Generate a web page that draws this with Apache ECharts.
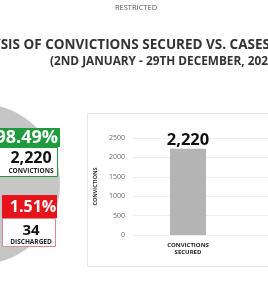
<!DOCTYPE html>
<html>
<head>
<meta charset="utf-8">
<script src="https://cdn.jsdelivr.net/npm/echarts@6/dist/echarts.min.js"></script>
<style>
  html, body { margin: 0; padding: 0; background: #fff; }
  #main { width: 268px; height: 300px; }
</style>
</head>
<body>
<div id="main"></div>
<script>
// categories + values
const categories = ['CONVICTIONS\nSECURED', 'CASES\nDISCHARGED']
const caseValues = [2220, 34]
const pieNames = ['CONVICTIONS', 'DISCHARGED']
const piePercents = ['98.49%', '1.51%']
const yTicks = [0, 500, 1000, 1500, 2000, 2500]

const FONT = '"Open Sans", "DejaVu Sans", sans-serif'

const fmt = (v) => v.toLocaleString('en-US')

var myChart = echarts.init(document.getElementById('main'))

// the bar panel is cut off on the right; the second bar sits outside the view
var option = {
  animation: false,
  backgroundColor: '#fff',
  grid: {
    left: 133,
    top: 138,
    right: 0,
    bottom: 65
  },
  xAxis: {
    type: 'value',
    min: -0.5,
    max: 0.727,
    axisLine: { show: false },
    axisTick: { show: false },
    splitLine: { show: false },
    axisLabel: {
      customValues: [0],
      formatter: (v) => categories[Math.round(v)] || '',
      margin: 7,
      fontSize: 6,
      fontWeight: 'bold',
      lineHeight: 7,
      color: '#222',
      fontFamily: FONT
    }
  },
  yAxis: {
    type: 'value',
    min: yTicks[0],
    max: yTicks[yTicks.length - 1],
    interval: 500,
    name: 'CONVICTIONS',
    nameLocation: 'middle',
    nameGap: 26,
    nameTextStyle: { fontSize: 5.5, fontWeight: 'bold', color: '#333', fontFamily: FONT },
    axisLine: { show: false },
    axisTick: { show: false },
    axisLabel: { margin: 8, fontSize: 7, color: '#666', fontFamily: FONT, formatter: (v) => String(v) },
    splitLine: { lineStyle: { color: '#eeeeee', width: 1 } }
  },
  series: [
    {
      type: 'bar',
      data: caseValues.map((v, i) => [i, v]),
      barWidth: 36,
      itemStyle: { color: '#b4b4b4' },
      label: {
        show: true,
        position: 'top',
        distance: 0,
        formatter: (p) => fmt(p.value[1]),
        fontSize: 16.5,
        fontWeight: 'bold',
        color: '#111',
        fontFamily: FONT
      },
      silent: true
    },
    {
      type: 'pie',
      center: [-20, 184],
      radius: 80,
      silent: true,
      label: { show: false },
      labelLine: { show: false },
      data: caseValues.map((v, i) => ({
        name: pieNames[i],
        value: v,
        itemStyle: { color: i === 0 ? '#c6c6c6' : '#e31b23' }
      }))
    }
  ],
  graphic: [
    // panel border round the bar chart
    { type: 'rect', shape: { x: 87.5, y: 113.5, width: 200, height: 153 }, style: { fill: 'none', stroke: '#e8e8e8', lineWidth: 1 }, z: 0 },
    { type: 'text', style: { text: 'RESTRICTED', x: 136, y: 8, align: 'center', verticalAlign: 'middle', fontSize: 7.5, fill: '#555', fontFamily: FONT } },
    { type: 'text', style: { text: 'ANALYSIS OF CONVICTIONS SECURED VS. CASES DISCHARGED', x: -45, y: 45, align: 'left', verticalAlign: 'middle', fontSize: 13.5, fontWeight: 'bold', fill: '#333', fontFamily: FONT } },
    { type: 'text', style: { text: '(2ND JANUARY - 29TH DECEMBER, 2021)', x: 50, y: 62, align: 'left', verticalAlign: 'middle', fontSize: 11.8, fontWeight: 'bold', fill: '#333', fontFamily: FONT } },

    // convictions box
    { type: 'rect', shape: { x: -10, y: 128, width: 70, height: 19 }, style: { fill: '#1f9a3d' }, z: 10 },
    { type: 'rect', shape: { x: -10.5, y: 147.5, width: 68, height: 29 }, style: { fill: '#fff', stroke: '#1f9a3d', lineWidth: 1 }, z: 10 },
    { type: 'text', z: 11, style: { text: piePercents[0], x: 58, y: 138, align: 'right', verticalAlign: 'middle', fontSize: 18, fontWeight: 'bold', fill: '#fff', fontFamily: FONT } },
    { type: 'text', z: 11, style: { text: fmt(caseValues[0]), x: 31, y: 158, align: 'center', verticalAlign: 'middle', fontSize: 16, fontWeight: 'bold', fill: '#111', fontFamily: FONT } },
    { type: 'text', z: 11, style: { text: pieNames[0], x: 31, y: 171, align: 'center', verticalAlign: 'middle', fontSize: 6.5, fontWeight: 'bold', fill: '#222', fontFamily: FONT } },

    // discharged box
    { type: 'rect', shape: { x: 2, y: 195, width: 55, height: 23 }, style: { fill: '#e8141c' }, z: 10 },
    { type: 'rect', shape: { x: 2.5, y: 218.5, width: 53, height: 28 }, style: { fill: '#fff', stroke: '#d98a8a', lineWidth: 1 }, z: 10 },
    { type: 'text', z: 11, style: { text: piePercents[1], x: 33, y: 207, align: 'center', verticalAlign: 'middle', fontSize: 16, fontWeight: 'bold', fill: '#fff', fontFamily: FONT } },
    { type: 'text', z: 11, style: { text: fmt(caseValues[1]), x: 31, y: 231, align: 'center', verticalAlign: 'middle', fontSize: 15, fontWeight: 'bold', fill: '#111', fontFamily: FONT } },
    { type: 'text', z: 11, style: { text: pieNames[1], x: 31, y: 242, align: 'center', verticalAlign: 'middle', fontSize: 6.5, fontWeight: 'bold', fill: '#222', fontFamily: FONT } }
  ]
}

myChart.setOption(option)
</script>
</body>
</html>
